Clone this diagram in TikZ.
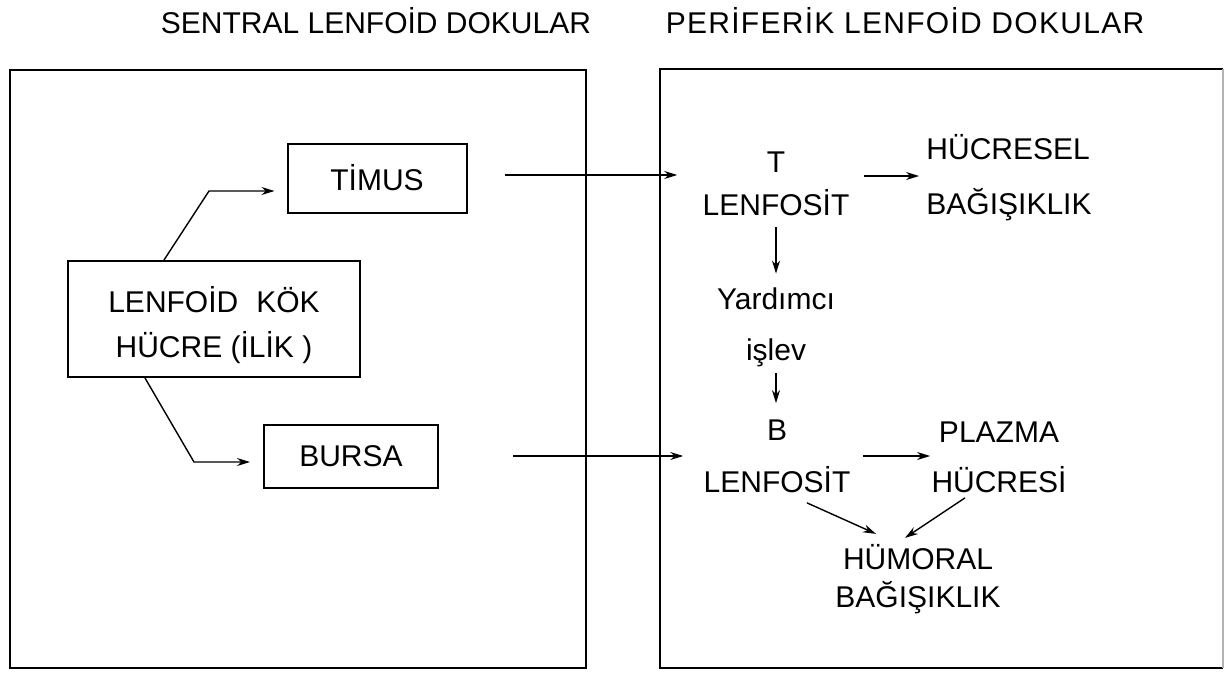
\documentclass[tikz,border=0pt]{standalone}
\usepackage{fontspec}
\setmainfont{Liberation Sans}
\usetikzlibrary{arrows.meta,calc}
\begin{document}
\begin{tikzpicture}[x=0.5pt,y=-0.5pt,
  frame/.style={draw,line width=1.1pt},
  box/.style={draw,line width=1pt,inner sep=0pt,font=\fontsize{15}{22.5}\selectfont,align=center},
  lbl/.style={inner sep=0pt,align=center},
  ttl/.style={inner sep=0pt,font=\fontsize{15}{18}\selectfont,anchor=base},
  arr/.style={line width=0.7pt,-{Stealth[length=6.5pt,width=4pt]}}]
\useasboundingbox (0,0) rectangle (1226,675);
\fill[white] (0,0) rectangle (1226,675);

% titles
\node[ttl] (t1) at (376,33) {SENTRAL LENFOİD DOKULAR};
\node[ttl] (t2) at (905,33) {\addfontfeature{LetterSpace=4.3}PERİFERİK LENFOİD DOKULAR};

% frames
\draw[frame] (10,70) rectangle (586,668);
\draw[frame] (1223,69) -- (660,69) -- (660,668) -- (1223,668);
\draw[gray!60,line width=0.6pt] (1223,69) -- (1223,668);

% left side
\node[box,minimum width=89.5pt,minimum height=34.5pt] (timus) at (377,178) {TİMUS};
\node[box,minimum width=146pt,minimum height=58pt] (lenfoid) at (214,319) {\rule{0pt}{19.5pt}LENFOİD\hspace{0.6em}KÖK\\HÜCRE (İLİK )};
\node[box,minimum width=87pt,minimum height=31.5pt] (bursa) at (351,456) {BURSA};

\coordinate (bend1) at (209,191);
\coordinate (bend2) at (194,462);
\draw[arr,shorten >=6pt] ($(lenfoid.north west)+(97,0)$) -- (bend1) -- (bend1 -| timus.west);
\draw[arr,shorten >=6.5pt] ($(lenfoid.south west)+(78,0)$) -- (bend2) -- (bend2 -| bursa.west);

% right side
\node[lbl,font=\fontsize{15}{21.5}\selectfont] (tlenf) at (776,183.5) {T\\LENFOSİT};
\node[lbl,font=\fontsize{15}{27.5}\selectfont,align=left] (hucresel) at (1009,177.5) {HÜCRESEL\\BAĞIŞIKLIK};
\node[lbl,font=\fontsize{15}{25.5}\selectfont] (yardimci) at (776,327.5) {Yardımcı\\işlev};
\node[lbl,font=\fontsize{15}{26}\selectfont] (blenf) at (777,456) {B\\LENFOSİT};
\node[lbl,font=\fontsize{15}{25}\selectfont] (plazma) at (999,457) {PLAZMA\\HÜCRESİ};
\node[lbl,font=\fontsize{15}{19}\selectfont] (humoral) at (918,579) {HÜMORAL\\BAĞIŞIKLIK};

\draw[arr,shorten <=18.5pt,shorten >=12.5pt] (timus.east |- 0,175) -- (tlenf.west |- 0,175);
\draw[arr,shorten <=37pt,shorten >=10pt] (bursa.east) -- (bursa.east -| blenf.west);
\draw[arr,shorten <=7pt,shorten >=3.5pt] (tlenf.east |- 0,176) -- (hucresel.west |- 0,176);
\draw[arr,shorten <=5.5pt,shorten >=7pt] (tlenf.south) -- (tlenf.south |- yardimci.north);
\draw[arr,shorten <=3pt,shorten >=8pt] (yardimci.south) -- (yardimci.south |- blenf.north);
\draw[arr,shorten <=6pt,shorten >=0.5pt] (blenf.east) -- (blenf.east -| plazma.west);
\draw[arr] ($(blenf.south)+(30,10)$) -- ($(humoral.north)+(-42,-10)$);
\draw[arr] ($(plazma.south)+(-34,5)$) -- ($(humoral.north)+(-13,-6)$);
\end{tikzpicture}
\end{document}
